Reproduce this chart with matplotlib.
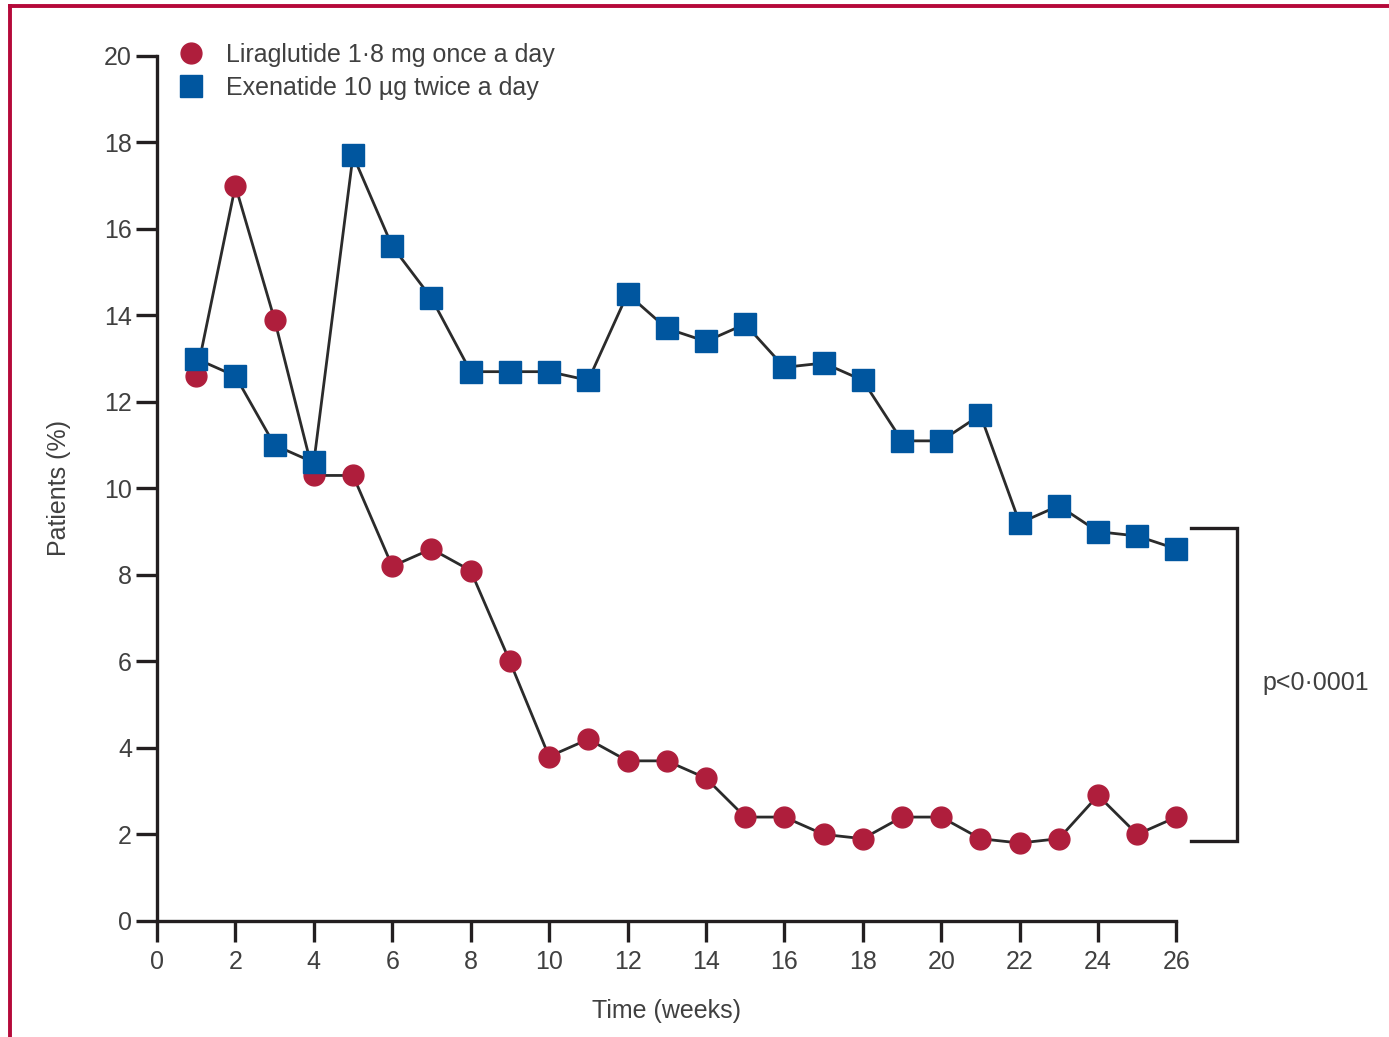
import matplotlib.pyplot as plt
from matplotlib.lines import Line2D

weeks = list(range(1, 27))
liraglutide = [12.6, 17.0, 13.9, 10.3, 10.3, 8.2, 8.6, 8.1, 6.0, 3.8, 4.2, 3.7, 3.7,
               3.3, 2.4, 2.4, 2.0, 1.9, 2.4, 2.4, 1.9, 1.8, 1.9, 2.9, 2.0, 2.4]
exenatide = [13.0, 12.6, 11.0, 10.6, 17.7, 15.6, 14.4, 12.7, 12.7, 12.7, 12.5, 14.5, 13.7,
             13.4, 13.8, 12.8, 12.9, 12.5, 11.1, 11.1, 11.7, 9.2, 9.6, 9.0, 8.9, 8.6]
series_labels = ["Liraglutide 1·8 mg once a day", "Exenatide 10 µg twice a day"]
xticks = list(range(0, 27, 2))
yticks = list(range(0, 21, 2))
p_text = "p<0·0001"

RED = "#af1e3c"
BLUE = "#00569f"
LINE = "#2b2b2b"
TEXT = "#404040"
AXIS = "#231f20"

plt.rcParams["font.family"] = ["Liberation Sans Narrow", "Liberation Sans", "DejaVu Sans"]

fig = plt.figure(figsize=(13.89, 10.37), dpi=100)
ax = fig.add_axes([0.113, 0.112, 0.734, 0.834])

ax.plot(weeks, liraglutide, color=LINE, lw=2.0, marker="o", ms=15,
        mfc=RED, mec=RED, zorder=3, clip_on=False)
ax.plot(weeks, exenatide, color=LINE, lw=2.0, marker="s", ms=16.5,
        mfc=BLUE, mec=BLUE, zorder=3, clip_on=False)

ax.set_xlim(0, 26)
ax.set_ylim(0, 20)
ax.set_xticks(xticks)
ax.set_yticks(yticks)
for s in ["top", "right"]:
    ax.spines[s].set_visible(False)
for s in ["left", "bottom"]:
    ax.spines[s].set_linewidth(2.4)
    ax.spines[s].set_color(AXIS)
ax.tick_params(direction="out", length=15, width=2.4, color=AXIS,
               labelsize=18, labelcolor=TEXT)
ax.tick_params(axis="x", pad=6)
ax.tick_params(axis="y", pad=3)

ax.set_xlabel("Time (weeks)", fontsize=18, color=TEXT, labelpad=18)
ax.set_ylabel("Patients (%)", fontsize=18, color=TEXT, labelpad=24)

handles = [
    Line2D([], [], ls="none", marker="o", ms=15, mfc=RED, mec=RED),
    Line2D([], [], ls="none", marker="s", ms=16.5, mfc=BLUE, mec=BLUE),
]
ax.legend(handles, series_labels, loc="upper left", bbox_to_anchor=(0.002, 1.035),
          frameon=False, fontsize=18, labelcolor=TEXT, handlelength=1.2,
          handletextpad=0.8, labelspacing=0.35, borderaxespad=0.3)

# significance bracket at the right end
bx0, bx1, btop, bbot = 26.38, 27.55, 9.09, 1.85
ax.plot([bx0, bx1, bx1, bx0], [btop, btop, bbot, bbot], color=AXIS, lw=2.4,
        clip_on=False, solid_joinstyle="miter")
ax.text(28.2, 5.5, p_text, fontsize=18, color=TEXT, va="center", ha="left")

# red frame on top and left edges
fig.add_artist(Line2D([0.0075, 1.0], [0.9943, 0.9943], color="#b5093a", lw=2.8,
                      transform=fig.transFigure))
fig.add_artist(Line2D([0.0075, 0.0075], [0.0, 0.9943], color="#b5093a", lw=2.8,
                      transform=fig.transFigure))

fig.savefig("out.png", dpi=100)
